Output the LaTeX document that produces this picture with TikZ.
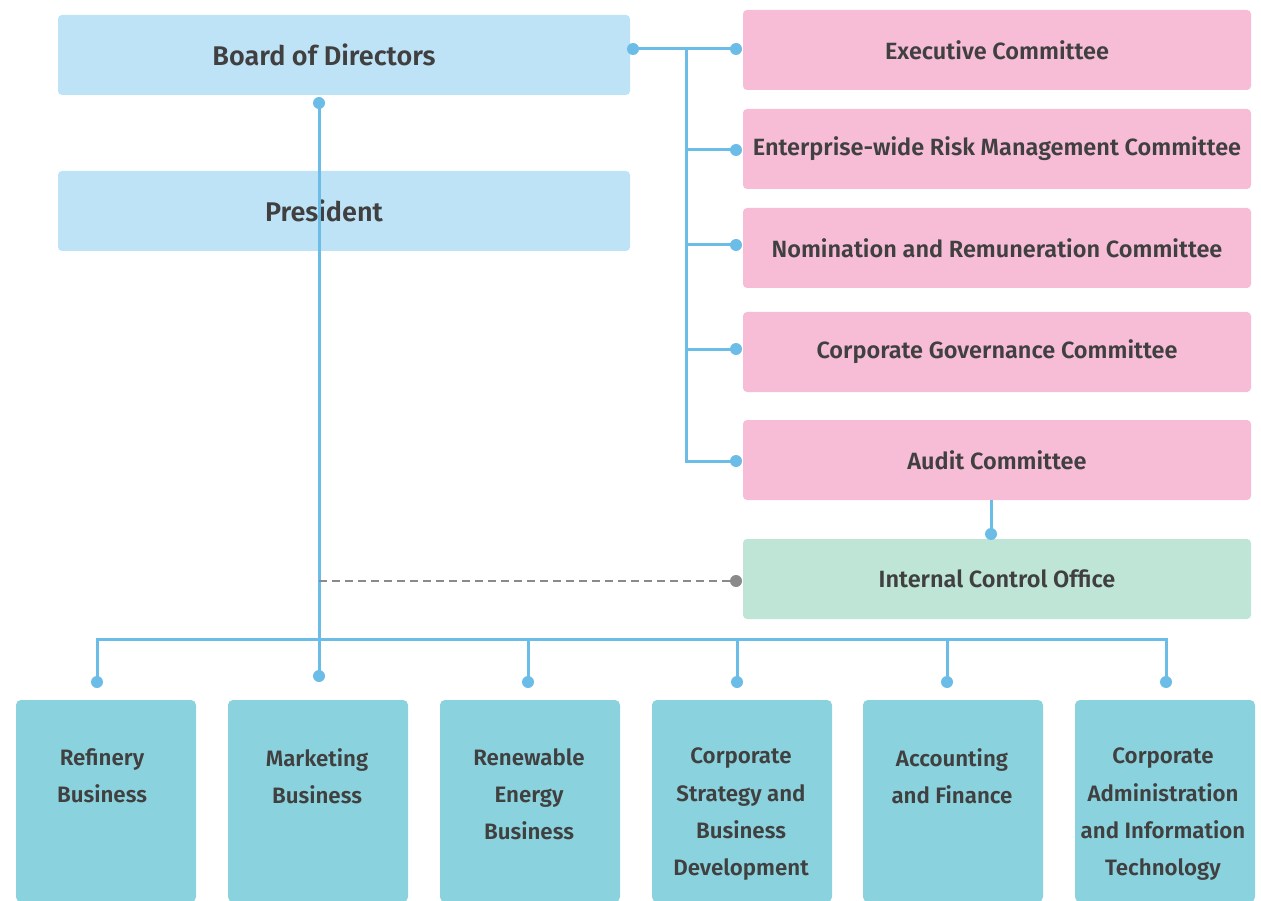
\documentclass[tikz,border=0pt]{standalone}
\usepackage{fontspec}
\setmainfont{Fira Sans}[BoldFont={Fira Sans SemiBold}]
\usetikzlibrary{positioning}
\definecolor{boardblue}{HTML}{BEE2F6}
\definecolor{compink}{HTML}{F7BDD7}
\definecolor{icogreen}{HTML}{BFE5D6}
\definecolor{unitteal}{HTML}{8AD2DE}
\definecolor{linkblue}{HTML}{6BBDE8}
\definecolor{dashgray}{HTML}{8A8A8A}
\definecolor{labelgray}{HTML}{404040}
\tikzset{
  boardbox/.style={fill=boardblue, rounded corners=4pt, minimum width=572pt, minimum height=80pt, inner sep=0pt},
  headtext/.style={text=labelgray, font=\fontsize{27}{32}\selectfont\bfseries, inner sep=0pt},
  combox/.style={fill=compink, rounded corners=4pt, minimum width=508pt, minimum height=80pt, inner sep=0pt,
                 text=labelgray, font=\fontsize{23.5}{28}\selectfont\bfseries},
  icobox/.style={combox, fill=icogreen},
  unitbox/.style={fill=unitteal, rounded corners=5pt, minimum width=180pt, minimum height=202pt, inner sep=0pt},
  unittext/.style={text=labelgray, font=\fontsize{22.3}{37.3}\selectfont\bfseries, align=center, inner sep=0pt, anchor=north},
  link/.style={draw=linkblue, line width=3pt},
  dashlink/.style={draw=dashgray, line width=2.6pt, dash pattern=on 8pt off 5pt},
}
\begin{document}
\begin{tikzpicture}[x=1pt,y=-1pt]
\useasboundingbox (0,0) rectangle (1261,901);

% board and president
\node[boardbox] (board) at (344,55) {};
\node[headtext] (boardname) at (324,55) {Board of Directors};
\node[boardbox] (president) at (344,211) {};
\node[headtext] (presidentname) at (324,211) {President};

% committees
\node[combox] (exec) at (997,50) {Executive Committee};
\node[combox] (erm) at (997,149) {Enterprise-wide Risk Management Committee};
\node[combox] (nom) at (997,248) {Nomination and Remuneration Committee};
\node[combox] (cg) at (997,352) {Corporate Governance Committee};
\node[combox] (audit) at (997,460) {Audit Committee};
\node[icobox] (ico) at (997,579) {Internal Control Office};

% business units
\node[unitbox] (refinery) at (106,801) {};
\node[unitbox] (marketing) at (318,801) {};
\node[unitbox] (renewable) at (530,801) {};
\node[unitbox] (strategy) at (742,801) {};
\node[unitbox] (finance) at (953,801) {};
\node[unitbox] (admin) at (1165,801) {};
\node[unittext] (refineryname) at (102,748) {Refinery\\Business};
\node[unittext] (marketingname) at (317,748) {Marketing\\Business};
\node[unittext] (renewablename) at (529,748) {Renewable\\Energy\\Business};
\node[unittext] (strategyname) at (741,748) {Corporate\\Strategy and\\Business\\Development};
\node[unittext] (financename) at (952,748) {Accounting\\and Finance};
\node[unittext] (adminname) at (1163,748) {Corporate\\Administration\\and Information\\Technology};

% connector points
\coordinate (boarddot) at (319,103);
\coordinate (boardright) at (633,49);
\coordinate (combus) at (686,49);
\coordinate (execdot) at (736,49);
\coordinate (ermdot) at (736,150);
\coordinate (nomdot) at (736,245);
\coordinate (cgdot) at (736,349);
\coordinate (auditdot) at (736,461);
\coordinate (auditbottom) at (991,500);
\coordinate (icotop) at (991,534);
\coordinate (icodot) at (736,581);
\coordinate (dashstart) at (319,581);
\coordinate (unitbus) at (319,639);
\coordinate (refinerydot) at (97,682);
\coordinate (marketingdot) at (319,676);
\coordinate (renewabledot) at (528,682);
\coordinate (strategydot) at (737,682);
\coordinate (financedot) at (947,682);
\coordinate (admindot) at (1166,682);

% lines
\draw[link] (boardright) -- (execdot);
\draw[link] (combus) |- (auditdot);
\draw[link] (combus |- ermdot) -- (ermdot);
\draw[link] (combus |- nomdot) -- (nomdot);
\draw[link] (combus |- cgdot) -- (cgdot);
\draw[link] (auditbottom) -- (icotop);
\draw[link] (boarddot) -- (marketingdot);
\draw[link] (refinerydot) |- (unitbus) -| (admindot);
\draw[link] (renewabledot) -- (renewabledot |- unitbus);
\draw[link] (strategydot) -- (strategydot |- unitbus);
\draw[link] (financedot) -- (financedot |- unitbus);
\draw[dashlink] (dashstart) -- (icodot);

% dots
\foreach \p in {boarddot,boardright,execdot,ermdot,nomdot,cgdot,auditdot,icotop,
                refinerydot,marketingdot,renewabledot,strategydot,financedot,admindot}
  \fill[linkblue] (\p) circle (6pt);
\fill[dashgray] (icodot) circle (6pt);
\end{tikzpicture}
\end{document}
